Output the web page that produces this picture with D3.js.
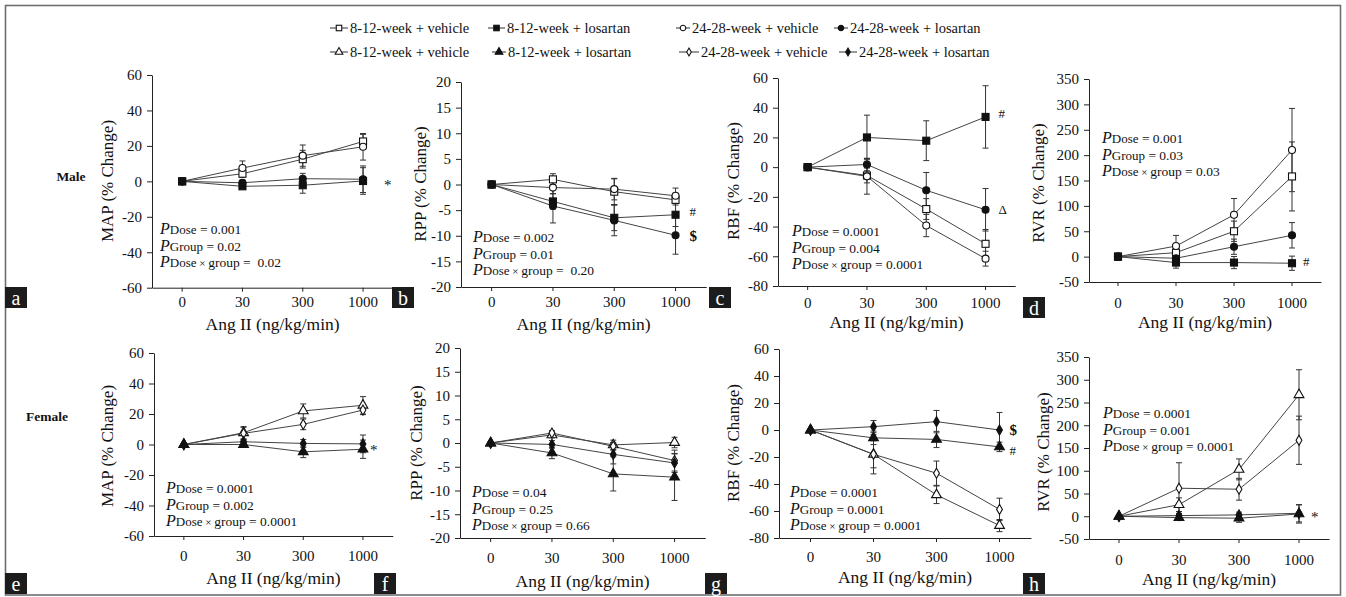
<!DOCTYPE html>
<html><head><meta charset="utf-8">
<script src="https://cdn.jsdelivr.net/npm/d3@7"></script>
<style>
html,body{margin:0;padding:0;background:#fff;}
svg{display:block;}
text{font-family:"Liberation Serif","Times New Roman",serif;}
</style></head><body>
<svg id="chart" width="1346" height="597"></svg>
<script>
// ---------------- DATA ----------------
const doses = ["0", "30", "300", "1000"];
const legendLabels = ["8-12-week + vehicle", "8-12-week + losartan", "24-28-week + vehicle", "24-28-week + losartan"];
const ticksMAP = [-60, -40, -20, 0, 20, 40, 60];
const ticksRPP = [-20, -15, -10, -5, 0, 5, 10, 15, 20];
const ticksRBF = [-80, -60, -40, -20, 0, 20, 40, 60];
const ticksRVR = [-50, 0, 50, 100, 150, 200, 250, 300, 350];
// series order: 8-12 vehicle, 8-12 losartan, 24-28 vehicle, 24-28 losartan
const mapMale = [[0, 4.3, 12.5, 22.5], [0, -2.8, -2.2, 0.2], [0, 7.5, 14.5, 19.5], [0, -0.8, 1.5, 1.2]];
const mapMaleSE = [[0, 2, 5, 4], [0, 1.2, 4.5, 7.5], [0, 4, 6, 7.5], [0, 1.5, 3, 7.5]];
const rppMale = [[0, 1.0, -1.4, -3.0], [0, -3.3, -6.5, -5.9], [0, -0.6, -0.9, -2.2], [0, -4.2, -7.0, -9.9]];
const rppMaleSE = [[0, 1.1, 2.5, 1], [0, 1.5, 2.5, 2.3], [0, 1.2, 2.1, 1.5], [0, 3.3, 3, 3.7]];
const rbfMale = [[0, -5.6, -28.2, -51.6], [0, 20, 17.8, 33.8], [0, -6.2, -39.3, -61.6], [0, 1.8, -15.6, -28.7]];
const rbfMaleSE = [[0, 5, 7, 9.6], [0, 15, 13.4, 21], [0, 12, 7.5, 5], [0, 4.2, 12, 14.3]];
const rvrMale = [[0, 7.8, 50, 158], [0, -11.7, -11.7, -13], [0, 20.8, 82.5, 210], [0, -3.2, 19.5, 42]];
const rvrMaleSE = [[0, 10, 20, 68], [0, 11, 12, 14], [0, 21, 32, 82], [0, 8, 15, 25]];
const mapFemale = [[0, 7.7, 22, 25.7], [0, 0, -4.8, -3.1], [0, 7.3, 13.2, 22.6], [0, 1.8, 0.7, 0.4]];
const mapFemaleSE = [[0, 4, 4.6, 5.7], [0, 1.5, 3.8, 6], [0, 4, 3.5, 3], [0, 1, 2.6, 5.8]];
const rppFemale = [[0, 1.7, -0.4, 0.1], [0, -2.1, -6.5, -7.2], [0, 2.1, -0.7, -3.7], [0, -0.3, -2.4, -4.2]];
const rppFemaleSE = [[0, 0.6, 1, 1.1], [0, 1.2, 3.6, 4.9], [0, 0.5, 0.8, 2.2], [0, 0.8, 2, 2]];
const rbfFemale = [[0, -18, -48, -70.8], [0, -5.8, -7, -12.5], [0, -18, -32, -58.8], [0, 2.5, 6.2, 0]];
const rbfFemaleSE = [[0, 10, 6.5, 4.5], [0, 5, 6, 3.5], [0, 14.5, 9, 8.3], [0, 4.5, 8.3, 13]];
const rvrFemale = [[0, 25.4, 103, 267], [0, -3, -4.3, 5], [0, 61.6, 59.4, 167], [0, 1.4, 3, 6.5]];
const rvrFemaleSE = [[0, 15, 23, 55], [0, 5, 9, 20], [0, 56, 24, 53], [0, 5, 6, 19]];
// P values: Dose, Group, Dose x group
const pA = ["0.001", "0.02", " 0.02"];
const pB = ["0.002", "0.01", " 0.20"];
const pC = ["0.0001", "0.004", "0.0001"];
const pD = ["0.001", "0.03", "0.03"];
const pE = ["0.0001", "0.002", "0.0001"];
const pF = ["0.04", "0.25", "0.66"];
const pG = ["0.0001", "0.0001", "0.0001"];
const pH = ["0.0001", "0.001", "0.0001"];
// significance marks [symbol, value at 1000]
const annA = [["*", 0]];
const annB = [["#", -5.3], ["$", -10]];
const annC = [["#", 36], ["\u0394", -28.5]];
const annD = [["#", -10]];
const annE = [["*", -1]];
const annF = [];
const annG = [["$", 0], ["#", -15]];
const annH = [["*", 7]];

// ---------------- LAYOUT ----------------
const panels = [
  {key: "a", sex: "male", yLabel: "MAP (% Change)", ticks: ticksMAP, vals: mapMale, se: mapMaleSE, p: pA, ann: annA,
   L: {axisX: 152, step: 60.3, yTop: 75, yBot: 287.7, xPad: 5, angY: 330, yLab: [107, 181], pPos: [160, 234], box: [5, 287], annDx: 21}},
  {key: "b", sex: "male", yLabel: "RPP (% Change)", ticks: ticksRPP, vals: rppMale, se: rppMaleSE, p: pB, ann: annB,
   L: {axisX: 461, step: 61.3, yTop: 82, yBot: 287, xPad: 5, angY: 330, yLab: [420, 184], pPos: [473, 242], box: [392, 287], annDx: 14}},
  {key: "c", sex: "male", yLabel: "RBF (% Change)", ticks: ticksRBF, vals: rbfMale, se: rbfMaleSE, p: pC, ann: annC,
   L: {axisX: 778, step: 59.3, yTop: 78, yBot: 286, xPad: 7, angY: 328, yLab: [733, 181], pPos: [792, 236], box: [709, 287], annDx: 13}},
  {key: "d", sex: "male", yLabel: "RVR (% Change)", ticks: ticksRVR, vals: rvrMale, se: rvrMaleSE, p: pD, ann: annD,
   L: {axisX: 1089, step: 58, yTop: 79, yBot: 282, xPad: 11, angY: 328, yLab: [1038, 183], pPos: [1102, 143], box: [1023, 297], annDx: 11}},
  {key: "e", sex: "female", yLabel: "MAP (% Change)", ticks: ticksMAP, vals: mapFemale, se: mapFemaleSE, p: pE, ann: annE,
   L: {axisX: 154, step: 59.7, yTop: 353, yBot: 536, xPad: 10, angY: 584, yLab: [107, 446], pPos: [166, 493], box: [5, 573], annDx: 7}},
  {key: "f", sex: "female", yLabel: "RPP (% Change)", ticks: ticksRPP, vals: rppFemale, se: rppFemaleSE, p: pF, ann: annF,
   L: {axisX: 460, step: 61.3, yTop: 348, yBot: 538, xPad: 10, angY: 587, yLab: [416, 443], pPos: [472, 497], box: [374, 573], annDx: 10}},
  {key: "g", sex: "female", yLabel: "RBF (% Change)", ticks: ticksRBF, vals: rbfFemale, se: rbfFemaleSE, p: pG, ann: annG,
   L: {axisX: 779, step: 63, yTop: 349, yBot: 538, xPad: 9, angY: 583, yLab: [733, 443], pPos: [790, 497], box: [705, 573], annDx: 10}},
  {key: "h", sex: "female", yLabel: "RVR (% Change)", ticks: ticksRVR, vals: rvrFemale, se: rvrFemaleSE, p: pH, ann: annH,
   L: {axisX: 1089, step: 60, yTop: 357, yBot: 539, xPad: 11, angY: 585, yLab: [1043, 452], pPos: [1103, 418], box: [1023, 573], annDx: 12}}
];
const shapes = {male: ["square", "square", "circle", "circle"], female: ["triangle", "triangle", "diamond", "diamond"]};
const filled = [false, true, false, true];
const INK = "#222";

const svg = d3.select("#chart");
svg.append("rect").attr("x", 0).attr("y", 0).attr("width", 1346).attr("height", 597).attr("fill", "#fff");
svg.append("rect").attr("x", 5.5).attr("y", 5.5).attr("width", 1335).attr("height", 589.5)
  .attr("fill", "none").attr("stroke", "#6e6e6e").attr("stroke-width", 1.6);

function drawMarker(g, shape, isFilled, x, y, s) {
  const fill = isFilled ? "#111" : "#fff";
  if (shape === "square") {
    g.append("rect").attr("x", x - s / 2).attr("y", y - s / 2).attr("width", s).attr("height", s)
      .attr("fill", fill).attr("stroke", "#111").attr("stroke-width", 1.1);
  } else {
    const type = shape === "circle" ? d3.symbolCircle : shape === "triangle" ? d3.symbolTriangle : d3.symbolDiamond;
    const area = shape === "circle" ? Math.PI * (s / 2) * (s / 2) : shape === "triangle" ? s * s * 0.85 : s * s * 0.6;
    g.append("path").attr("d", d3.symbol().type(type).size(area)())
      .attr("transform", `translate(${x},${y})`)
      .attr("fill", fill).attr("stroke", "#111").attr("stroke-width", 1.1);
  }
}

// ---------------- LEGEND ----------------
const legRows = [
  {y: 28, items: [[330, 348, 350], [488, 505, 507], [676, 690, 692], [834, 848, 850]], sh: shapes.male},
  {y: 52, items: [[330, 348, 350], [492, 506, 508], [679, 699, 701], [839, 857, 859]], sh: shapes.female}
];
const leg = svg.append("g");
legRows.forEach(row => {
  row.items.forEach((it, i) => {
    leg.append("line").attr("x1", it[0]).attr("x2", it[1]).attr("y1", row.y).attr("y2", row.y)
      .attr("stroke", "#333").attr("stroke-width", 1);
    drawMarker(leg, row.sh[i], filled[i], (it[0] + it[1]) / 2, row.y, 5.5);
    leg.append("text").attr("x", it[2]).attr("y", row.y).attr("dy", "0.34em")
      .attr("font-size", 14.5).attr("fill", "#111").text(legendLabels[i]);
  });
});

// Male / Female
svg.append("text").attr("x", 71).attr("y", 181).attr("text-anchor", "middle").attr("font-weight", "bold")
  .attr("font-size", 13.5).attr("fill", "#111").text("Male");
svg.append("text").attr("x", 47).attr("y", 421).attr("text-anchor", "middle").attr("font-weight", "bold")
  .attr("font-size", 13.5).attr("fill", "#111").text("Female");

// ---------------- PANELS ----------------
panels.forEach(P => {
  const L = P.L;
  const g = svg.append("g");
  const x = d3.scaleBand().domain(doses).range([L.axisX, L.axisX + 4 * L.step]).padding(0);
  const cx = d => x(d) + x.bandwidth() / 2;
  const y = d3.scaleLinear().domain([P.ticks[0], P.ticks[P.ticks.length - 1]]).range([L.yBot, L.yTop]);

  // y axis
  const ya = g.append("g").attr("transform", `translate(${L.axisX},0)`)
    .call(d3.axisLeft(y).tickValues(P.ticks).tickFormat(d => String(d)).tickSize(5).tickSizeOuter(0).tickPadding(5));
  ya.attr("font-family", null).attr("font-size", null);
  ya.select(".domain").attr("stroke", INK);
  ya.selectAll(".tick line").attr("stroke", INK);
  ya.selectAll(".tick text").attr("font-size", 15).attr("fill", "#111");

  // x axis
  const xa = g.append("g").attr("transform", `translate(0,${L.yBot})`)
    .call(d3.axisBottom(x).tickSize(4).tickSizeOuter(0).tickPadding(L.xPad));
  xa.attr("font-family", null).attr("font-size", null);
  xa.select(".domain").attr("stroke", INK);
  xa.selectAll(".tick line").attr("stroke", INK);
  xa.selectAll(".tick text").attr("font-size", 15).attr("fill", "#111");

  // axis titles
  g.append("text").attr("transform", `translate(${L.yLab[0]},${L.yLab[1]}) rotate(-90)`)
    .attr("text-anchor", "middle").attr("dy", "0.35em").attr("font-size", 17).attr("fill", "#111").text(P.yLabel);
  g.append("text").attr("x", L.axisX + 2 * L.step).attr("y", L.angY).attr("text-anchor", "middle")
    .attr("font-size", 17.5).attr("fill", "#111").text("Ang II (ng/kg/min)");

  // lines
  const line = d3.line().x((d, i) => cx(doses[i])).y(d => y(d));
  P.vals.forEach(s => {
    g.append("path").attr("d", line(s)).attr("fill", "none").attr("stroke", "#444").attr("stroke-width", 1);
  });
  // error bars
  P.vals.forEach((s, si) => {
    s.forEach((v, i) => {
      const e = P.se[si][i];
      if (!e) return;
      const xx = cx(doses[i]);
      g.append("line").attr("x1", xx).attr("x2", xx).attr("y1", y(v - e)).attr("y2", y(v + e))
        .attr("stroke", "#333").attr("stroke-width", 1);
      [v - e, v + e].forEach(t => {
        g.append("line").attr("x1", xx - 3).attr("x2", xx + 3).attr("y1", y(t)).attr("y2", y(t))
          .attr("stroke", "#333").attr("stroke-width", 1);
      });
    });
  });
  // markers
  P.vals.forEach((s, si) => {
    s.forEach((v, i) => drawMarker(g, shapes[P.sex][si], filled[si], cx(doses[i]), y(v), 7));
  });

  // significance marks
  P.ann.forEach(a => {
    const bold = a[0] === "$";
    g.append("text").attr("x", cx("1000") + L.annDx).attr("y", y(a[1])).attr("dy", a[0] === "*" ? "0.6em" : "0.35em")
      .attr("font-size", bold ? 15 : (a[0] === "*" ? 15 : 13)).attr("font-weight", bold ? "bold" : null)
      .attr("fill", "#111").text(a[0]);
  });

  // P-values
  const rows = [["Dose", null, " = " + P.p[0]], ["Group", null, " = " + P.p[1]], ["Dose", " \u00d7 ", "group = " + P.p[2]]];
  rows.forEach((r, i) => {
    const t = g.append("text").attr("x", L.pPos[0]).attr("y", L.pPos[1] + i * 16.5).attr("fill", "#111")
      .style("white-space", "pre");
    t.append("tspan").attr("font-style", "italic").attr("font-size", 16).text("P");
    t.append("tspan").attr("font-size", 13).text(r[0]);
    if (r[1]) t.append("tspan").attr("font-size", 11).text(r[1]);
    t.append("tspan").attr("font-size", 13.5).text(r[2]);
  });

  // panel letter
  g.append("rect").attr("x", L.box[0]).attr("y", L.box[1]).attr("width", 22).attr("height", 21).attr("fill", "#1c1c1c");
  g.append("text").attr("x", L.box[0] + 11).attr("y", L.box[1] + 10.5).attr("dy", "0.36em").attr("text-anchor", "middle")
    .attr("font-family", "'Liberation Sans', Arial, sans-serif").attr("font-size", 20).attr("fill", "#fff").text(P.key);
});
</script>
</body></html>
